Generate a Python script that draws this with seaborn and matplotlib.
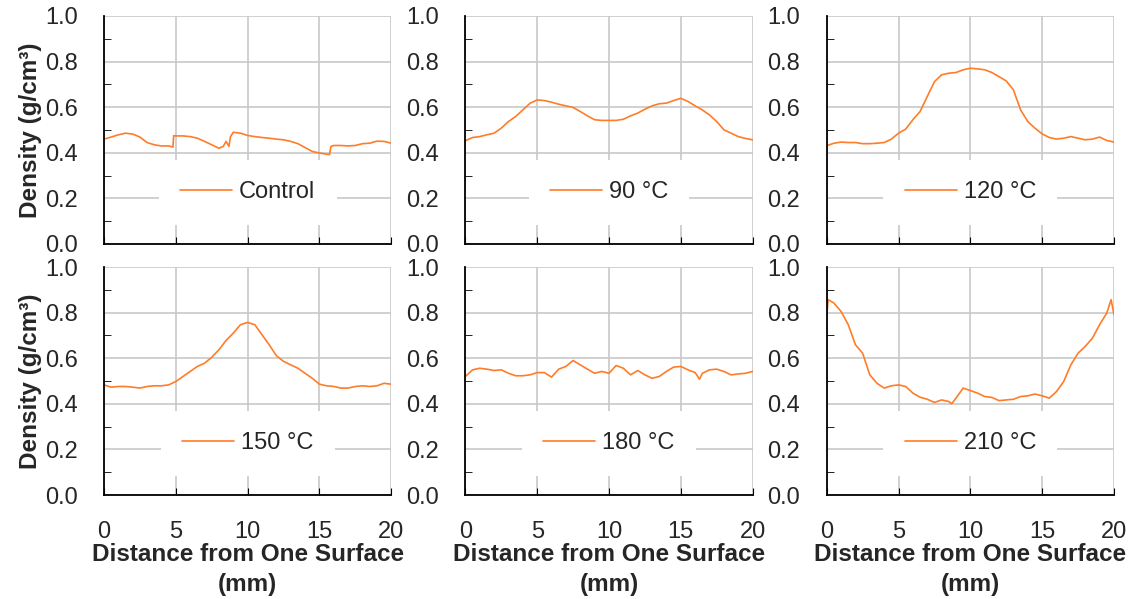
import numpy as np
import pandas as pd
import seaborn as sns
import matplotlib.pyplot as plt
from matplotlib.ticker import MultipleLocator

# distance (mm) every 0.5 mm, plus a few extra points at steps/spikes
x_half = [i * 0.5 for i in range(41)]

control_x = [0, 0.5, 1, 1.5, 2, 2.5, 3, 3.5, 4, 4.5, 4.8, 4.85, 5, 5.5, 6, 6.5, 7, 7.5, 8, 8.3, 8.5, 8.7, 8.8,
             9, 9.5, 10, 10.5, 11, 11.5, 12, 12.5, 13, 13.5, 14, 14.5, 15, 15.5, 15.7, 15.8, 16, 16.5, 17,
             17.5, 18, 18.5, 19, 19.5, 20]
control_y = [0.460, 0.469, 0.479, 0.486, 0.482, 0.469, 0.445, 0.435, 0.430, 0.430, 0.425, 0.475, 0.474, 0.474,
             0.471, 0.464, 0.450, 0.435, 0.420, 0.428, 0.450, 0.428, 0.470, 0.490, 0.486, 0.476, 0.471, 0.467,
             0.464, 0.460, 0.457, 0.450, 0.440, 0.423, 0.406, 0.399, 0.394, 0.392, 0.428, 0.432, 0.432, 0.430,
             0.432, 0.440, 0.442, 0.451, 0.450, 0.442]

t90_y = [0.453, 0.467, 0.471, 0.479, 0.486, 0.508, 0.537, 0.559, 0.588, 0.617, 0.632, 0.629, 0.622, 0.613,
         0.606, 0.599, 0.581, 0.562, 0.545, 0.542, 0.542, 0.542, 0.547, 0.562, 0.574, 0.591, 0.606, 0.615,
         0.618, 0.629, 0.639, 0.625, 0.606, 0.588, 0.566, 0.537, 0.501, 0.486, 0.471, 0.463, 0.457]

t120_y = [0.431, 0.442, 0.447, 0.445, 0.445, 0.440, 0.440, 0.442, 0.445, 0.460, 0.486, 0.504, 0.545, 0.581,
          0.647, 0.712, 0.742, 0.749, 0.752, 0.764, 0.771, 0.768, 0.764, 0.752, 0.734, 0.715, 0.676, 0.588,
          0.537, 0.508, 0.483, 0.467, 0.460, 0.464, 0.471, 0.464, 0.457, 0.460, 0.469, 0.454, 0.447]

t150_y = [0.483, 0.473, 0.476, 0.476, 0.473, 0.469, 0.476, 0.479, 0.479, 0.483, 0.498, 0.520, 0.542, 0.564,
          0.578, 0.604, 0.637, 0.678, 0.710, 0.747, 0.757, 0.747, 0.703, 0.659, 0.611, 0.586, 0.571, 0.556,
          0.534, 0.512, 0.486, 0.479, 0.476, 0.469, 0.469, 0.476, 0.479, 0.476, 0.479, 0.490, 0.486]

t180_x = x_half[:33] + [16.3] + x_half[33:]
t180_y = [0.520, 0.549, 0.556, 0.552, 0.546, 0.549, 0.534, 0.523, 0.523, 0.527, 0.537, 0.537, 0.517, 0.552,
          0.564, 0.590, 0.571, 0.552, 0.534, 0.542, 0.534, 0.568, 0.556, 0.527, 0.546, 0.527, 0.512, 0.520,
          0.542, 0.561, 0.564, 0.549, 0.537, 0.508, 0.534, 0.549, 0.552, 0.542, 0.527, 0.531, 0.534, 0.542]

t210_x = [0, 0.1, 0.5, 1, 1.5, 2, 2.5, 3, 3.5, 4, 4.5, 5, 5.5, 6, 6.5, 7, 7.5, 8, 8.5, 8.7, 9, 9.5, 10, 10.5,
          11, 11.5, 12, 12.5, 13, 13.5, 14, 14.5, 15, 15.5, 16, 16.5, 17, 17.5, 18, 18.5, 19, 19.5, 19.8, 20]
t210_y = [0.783, 0.857, 0.842, 0.805, 0.747, 0.659, 0.622, 0.527, 0.490, 0.469, 0.479, 0.483, 0.476, 0.447,
          0.429, 0.420, 0.406, 0.417, 0.410, 0.400, 0.425, 0.469, 0.458, 0.447, 0.432, 0.428, 0.414, 0.417,
          0.420, 0.432, 0.435, 0.443, 0.435, 0.425, 0.454, 0.498, 0.571, 0.622, 0.652, 0.688, 0.747, 0.798,
          0.857, 0.791]

labels = ["Control", "90 °C", "120 °C", "150 °C", "180 °C", "210 °C"]
series_x = [control_x, x_half, x_half, x_half, t180_x, t210_x]
series_y = [control_y, t90_y, t120_y, t150_y, t180_y, t210_y]

rows = []
for lab, xs, ys in zip(labels, series_x, series_y):
    for xv, yv in zip(xs, ys):
        rows.append({"group": lab, "distance": xv, "density": yv})
df = pd.DataFrame(rows)

sns.set_style("white")
plt.rcParams['font.family'] = ['Liberation Sans', 'DejaVu Sans']

line_color = "#FF7C28"
grid_color = "#C8C8C8"

fig, axes = plt.subplots(2, 3, figsize=(11.33, 5.99), dpi=100)
fig.subplots_adjust(left=0.0918, right=0.9832, bottom=0.1736, top=0.9733, wspace=0.258, hspace=0.101)

for i, (ax, lab) in enumerate(zip(axes.flat, labels)):
    sub = df[df["group"] == lab]
    sns.lineplot(data=sub, x="distance", y="density", ax=ax, color=line_color,
                 linewidth=1.2, label=lab, estimator=None, sort=False)
    ax.set_xlim(0, 20)
    ax.set_ylim(0, 1.0)
    ax.xaxis.set_major_locator(MultipleLocator(5))
    ax.yaxis.set_major_locator(MultipleLocator(0.2))
    ax.yaxis.set_minor_locator(MultipleLocator(0.1))
    ax.yaxis.set_major_formatter(plt.FormatStrFormatter('%.1f'))
    ax.grid(True, which='major', color=grid_color, linewidth=1.2)
    ax.set_axisbelow(True)
    for s in ['top', 'right']:
        ax.spines[s].set_visible(False)
    for s in ['left', 'bottom']:
        ax.spines[s].set_color('black')
        ax.spines[s].set_linewidth(1.3)
    ax.tick_params(axis='both', which='both', direction='in', color='black', labelsize=17)
    ax.tick_params(axis='y', which='major', length=5, pad=19)
    ax.tick_params(axis='y', which='minor', length=5, left=True)
    ax.tick_params(axis='x', which='major', length=5, pad=19, bottom=True)

    leg = ax.legend(loc='center', bbox_to_anchor=(0.5, 0.226), frameon=True, fontsize=17,
                    handlelength=2.2, borderpad=0.5, handletextpad=0.3, borderaxespad=0)
    leg.get_frame().set_facecolor('white')
    leg.get_frame().set_edgecolor('none')
    leg.get_frame().set_alpha(1.0)
    leg.get_frame().set_boxstyle('square', pad=0.4)

    if i < 3:
        ax.tick_params(axis='x', labelbottom=False)
        ax.set_xlabel("")
    else:
        ax.set_xlabel("Distance from One Surface\n(mm)", fontsize=17.5, fontweight='bold',
                      linespacing=1.35, labelpad=0)
    if i % 3 == 0:
        ax.set_ylabel("Density (g/cm³)", fontsize=17.5, fontweight='bold', labelpad=2)
    else:
        ax.set_ylabel("")

fig.savefig("out.png", dpi=100)
